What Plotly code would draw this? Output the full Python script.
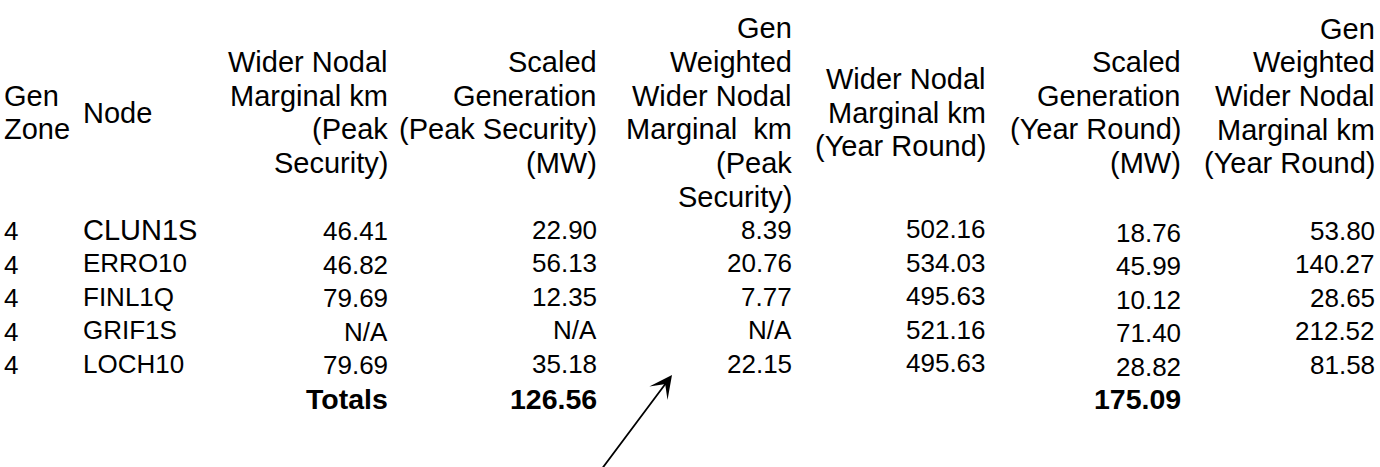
import plotly.graph_objects as go

# ---- data ----
header_zone = ["Gen", "Zone"]
header_node = ["Node"]
header_wnm_peak = ["Wider Nodal", "Marginal km", "(Peak", "Security)"]
header_sg_peak = ["Scaled", "Generation", "(Peak Security)", "(MW)"]
header_gw_peak = ["Gen", "Weighted", "Wider Nodal", "Marginal  km", "(Peak", "Security)"]
header_wnm_year = ["Wider Nodal", "Marginal km", "(Year Round)"]
header_sg_year = ["Scaled", "Generation", "(Year Round)", "(MW)"]
header_gw_year = ["Gen", "Weighted", "Wider Nodal", "Marginal km", "(Year Round)"]

zones = ["4", "4", "4", "4", "4"]
nodes = ["CLUN1S", "ERRO10", "FINL1Q", "GRIF1S", "LOCH10"]
wnm_peak = [46.41, 46.82, 79.69, None, 79.69]
sg_peak = [22.90, 56.13, 12.35, None, 35.18]
gw_peak = [8.39, 20.76, 7.77, None, 22.15]
wnm_year = [502.16, 534.03, 495.63, 521.16, 495.63]
sg_year = [18.76, 45.99, 10.12, 71.40, 28.82]
gw_year = [53.80, 140.27, 28.65, 212.52, 81.58]
totals_label = "Totals"
total_sg_peak = 126.56
total_sg_year = 175.09

# ---- layout constants ----
W, H = 1380, 467
FONT = "Liberation Sans, Arial, Helvetica, sans-serif"
HDR_SIZE = 29
DAT_SIZE = 26
LINE = 33.7

def fmt(v):
    return "N/A" if v is None else f"{v:.2f}"

# columns: (header lines, values, x, anchor, header top-aligned?, row y offset)
columns = [
    (header_zone, zones, 2, "left", False, 0.5),
    (header_node, nodes, 80.5, "left", False, -1),
    (header_wnm_peak, [fmt(v) for v in wnm_peak], 390, "right", False, 0.5),
    (header_sg_peak, [fmt(v) for v in sg_peak], 599, "right", False, -1),
    (header_gw_peak, [fmt(v) for v in gw_peak], 794, "right", False, -1),
    (header_wnm_year, [fmt(v) for v in wnm_year], 988, "right", False, -1.5),
    (header_sg_year, [fmt(v) for v in sg_year], 1183, "right", False, 2),
    (header_gw_year, [fmt(v) for v in gw_year], 1377, "right", True, 0),
]
row_y = [230.5, 264.0, 297.5, 331.0, 364.5]
total_y = 398.5
hdr_center = 112.5
hdr_top = 28.5

annotations = []
for hdr, vals, x, anchor, top, dy in columns:
    n = len(hdr)
    y0 = hdr_top if top else hdr_center - (n - 1) * LINE / 2
    for i, line in enumerate(hdr):
        annotations.append(dict(
            x=x, y=y0 + i * LINE, xref="x", yref="y", text=line,
            showarrow=False, xanchor=anchor, yanchor="middle",
            font=dict(family=FONT, size=HDR_SIZE, color="black"),
        ))
    for j, v in enumerate(vals):
        size = DAT_SIZE
        if anchor == "left" and x > 50 and j == 0:
            size = 29
        annotations.append(dict(
            x=x, y=row_y[j] + dy, xref="x", yref="y", text=v,
            showarrow=False, xanchor=anchor, yanchor="middle",
            font=dict(family=FONT, size=size, color="black"),
        ))

for text, x in [(totals_label, 390), (f"{total_sg_peak:.2f}", 599), (f"{total_sg_year:.2f}", 1183)]:
    annotations.append(dict(
        x=x, y=total_y, xref="x", yref="y", text=f"<b>{text}</b>",
        showarrow=False, xanchor="right", yanchor="middle",
        font=dict(family=FONT, size=28.5, color="black"),
    ))

# arrow
annotations.append(dict(
    x=672, y=375, xref="x", yref="y", ax=601, ay=470, axref="x", ayref="y",
    text="", showarrow=True, arrowhead=3, arrowsize=2.1, arrowwidth=1.8,
    arrowcolor="black", standoff=0,
))

fig = go.Figure()
fig.update_layout(
    width=W, height=H,
    margin=dict(l=0, r=0, t=0, b=0),
    paper_bgcolor="white", plot_bgcolor="white",
    xaxis=dict(range=[0, W], visible=False, fixedrange=True),
    yaxis=dict(range=[H, 0], visible=False, fixedrange=True),
    annotations=annotations,
    showlegend=False,
)
fig.write_html(
    "out.html",
    config={"displayModeBar": False},
    post_script="document.body.style.margin='0';document.body.style.overflow='hidden';",
)
